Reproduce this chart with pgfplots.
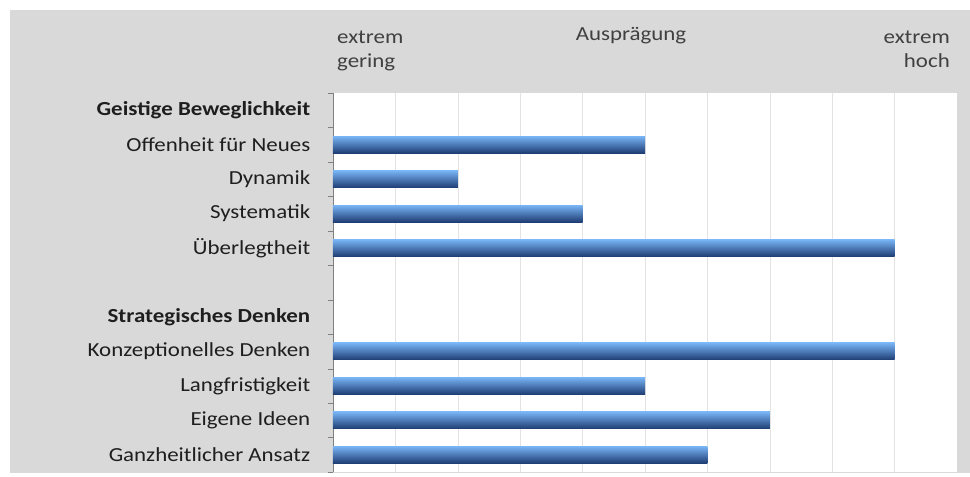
\documentclass[border=0pt]{standalone}
\usepackage{fontspec}
\setmainfont{Carlito}[FakeStretch=1.15]
\usepackage{pgfplots}
\pgfplotsset{compat=1.18}
\definecolor{panel}{RGB}{217,217,217}
\definecolor{txt}{RGB}{30,30,30}
\definecolor{barlight}{RGB}{120,180,245}
\definecolor{barmid}{RGB}{50,115,210}
\definecolor{bardark}{RGB}{30,60,115}
\pgfplotsset{shadedbar/.style={xbar, bar width=17bp, draw=none,
    top color=barlight, middle color=barmid, bottom color=bardark}}
\begin{document}
\begin{tikzpicture}
\useasboundingbox (-333bp,-5bp) rectangle (637bp,472bp);
\fill[panel] (-323bp,-1bp) rectangle (637bp,462bp);
\begin{axis}[
    at={(0,0)}, anchor=south west,
    width=624bp, height=379bp, scale only axis,
    axis background/.style={fill=white},
    xmin=0, xmax=10,
    ymin=0.5, ymax=11.5, y dir=reverse,
    axis lines*=left,
    x axis line style={draw=none},
    y axis line style={draw=gray},
    xtick={1,...,9}, xticklabels={},
    xmajorgrids, major grid style={draw=gray!22},
    major x tick style={draw=none},
    ytick={1,...,11},
    yticklabels={\textbf{Geistige Beweglichkeit},Offenheit für Neues,Dynamik,Systematik,Überlegtheit,,\textbf{Strategisches Denken},Konzeptionelles Denken,Langfristigkeit,Eigene Ideen,Ganzheitlicher Ansatz},
    major y tick style={draw=none},
    minor ytick={0.5,1.5,...,11.5},
    minor tick length=5bp, tick align=outside,
    minor y tick style={draw=gray},
    yticklabel style={font=\fontsize{20}{22}\selectfont, text=txt, xshift=-15bp},
]
% one plot per bar so each bar gets its own gradient
\addplot[shadedbar] coordinates {(5,2)};
\addplot[shadedbar] coordinates {(2,3)};
\addplot[shadedbar] coordinates {(4,4)};
\addplot[shadedbar] coordinates {(9,5)};
\addplot[shadedbar] coordinates {(9,8)};
\addplot[shadedbar] coordinates {(5,9)};
\addplot[shadedbar] coordinates {(7,10)};
\addplot[shadedbar] coordinates {(6,11)};
\end{axis}
\begin{scope}[every node/.style={font=\fontsize{20}{25}\selectfont, text=txt!85!white, inner sep=0pt}]
\node[anchor=base west, align=left] at (4bp,404bp) {extrem\\gering};
\node[anchor=base] at (298bp,431bp) {Ausprägung};
\node[anchor=base east, align=right] at (617bp,404bp) {extrem\\hoch};
\end{scope}
\end{tikzpicture}
\end{document}
